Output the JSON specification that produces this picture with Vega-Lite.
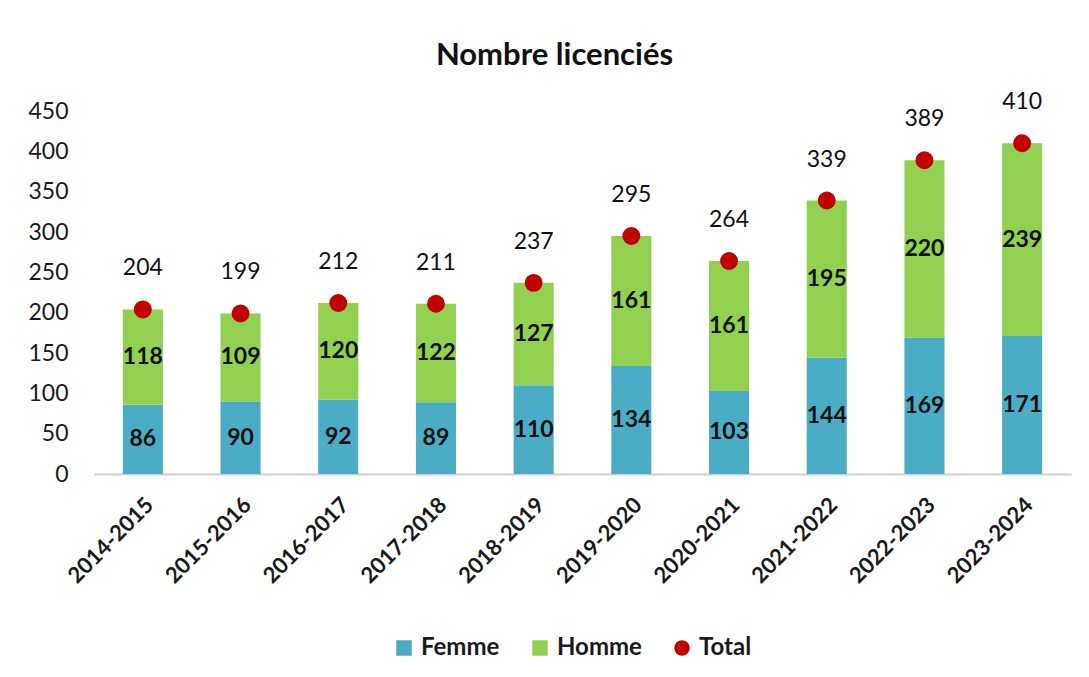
{
  "$schema": "https://vega.github.io/schema/vega-lite/v6.json",
  "width": 977,
  "height": 363,
  "autosize": {"type": "none"},
  "padding": {"left": 94, "top": 111, "right": 18, "bottom": 203},
  "background": "white",
  "title": {"text": "Nombre licenciés", "font": "Lato", "fontSize": 31, "fontWeight": "bold", "color": "#111111", "anchor": "middle", "offset": 19, "dx": -28},
  "config": {"view": {"stroke": null}, "font": "Lato"},
  "data": {"values": [
    {"season": "2014-2015", "serie": "Femme", "value": 86, "ord": 1},
    {"season": "2014-2015", "serie": "Homme", "value": 118, "ord": 2},
    {"season": "2014-2015", "serie": "Total", "value": 204, "ord": 3},
    {"season": "2015-2016", "serie": "Femme", "value": 90, "ord": 1},
    {"season": "2015-2016", "serie": "Homme", "value": 109, "ord": 2},
    {"season": "2015-2016", "serie": "Total", "value": 199, "ord": 3},
    {"season": "2016-2017", "serie": "Femme", "value": 92, "ord": 1},
    {"season": "2016-2017", "serie": "Homme", "value": 120, "ord": 2},
    {"season": "2016-2017", "serie": "Total", "value": 212, "ord": 3},
    {"season": "2017-2018", "serie": "Femme", "value": 89, "ord": 1},
    {"season": "2017-2018", "serie": "Homme", "value": 122, "ord": 2},
    {"season": "2017-2018", "serie": "Total", "value": 211, "ord": 3},
    {"season": "2018-2019", "serie": "Femme", "value": 110, "ord": 1},
    {"season": "2018-2019", "serie": "Homme", "value": 127, "ord": 2},
    {"season": "2018-2019", "serie": "Total", "value": 237, "ord": 3},
    {"season": "2019-2020", "serie": "Femme", "value": 134, "ord": 1},
    {"season": "2019-2020", "serie": "Homme", "value": 161, "ord": 2},
    {"season": "2019-2020", "serie": "Total", "value": 295, "ord": 3},
    {"season": "2020-2021", "serie": "Femme", "value": 103, "ord": 1},
    {"season": "2020-2021", "serie": "Homme", "value": 161, "ord": 2},
    {"season": "2020-2021", "serie": "Total", "value": 264, "ord": 3},
    {"season": "2021-2022", "serie": "Femme", "value": 144, "ord": 1},
    {"season": "2021-2022", "serie": "Homme", "value": 195, "ord": 2},
    {"season": "2021-2022", "serie": "Total", "value": 339, "ord": 3},
    {"season": "2022-2023", "serie": "Femme", "value": 169, "ord": 1},
    {"season": "2022-2023", "serie": "Homme", "value": 220, "ord": 2},
    {"season": "2022-2023", "serie": "Total", "value": 389, "ord": 3},
    {"season": "2023-2024", "serie": "Femme", "value": 171, "ord": 1},
    {"season": "2023-2024", "serie": "Homme", "value": 239, "ord": 2},
    {"season": "2023-2024", "serie": "Total", "value": 410, "ord": 3}
  ]},
  "encoding": {
    "x": {"field": "season", "type": "nominal", "sort": null,
      "scale": {"paddingInner": 0.59, "paddingOuter": 0.295},
      "axis": {"title": null, "labelAngle": -45, "labelFont": "Lato", "labelFontSize": 22, "labelFontWeight": "bold", "labelColor": "#1a1a1a", "ticks": false, "labelPadding": 20, "domainColor": "#d0d0d0", "domainWidth": 2}}
  },
  "layer": [
    {
      "transform": [{"filter": "datum.serie !== 'Total'"}],
      "mark": {"type": "bar"},
      "encoding": {
        "y": {"field": "value", "type": "quantitative", "stack": "zero",
          "scale": {"domain": [0, 450], "nice": false},
          "axis": {"title": null, "values": [0, 50, 100, 150, 200, 250, 300, 350, 400, 450], "grid": false, "domain": false, "ticks": false, "labelFont": "Lato", "labelFontSize": 23, "labelColor": "#1a1a1a", "labelPadding": 26}},
        "color": {"field": "serie", "type": "nominal",
          "scale": {"domain": ["Femme", "Homme", "Total"], "range": ["#4BACC6", "#92D050", "#C00000"]},
          "legend": {"title": null, "orient": "none", "legendX": 298, "legendY": 525, "direction": "horizontal", "labelFont": "Lato", "labelFontSize": 24, "labelFontWeight": "bold", "labelColor": "#1a1a1a", "symbolSize": 240, "symbolStrokeWidth": 0, "columnPadding": 28, "labelOffset": 5,
            "encode": {"symbols": {"update": {"shape": {"signal": "datum.value === 'Total' ? 'circle' : 'square'"}}}}}},
        "order": {"field": "ord", "type": "quantitative"}
      }
    },
    {
      "transform": [{"filter": "datum.serie !== 'Total'"}],
      "mark": {"type": "text", "font": "Lato", "fontSize": 23, "fontWeight": "bold", "color": "#111111", "baseline": "middle"},
      "encoding": {
        "y": {"field": "value", "type": "quantitative", "stack": "zero", "bandPosition": 0.5},
        "text": {"field": "value", "type": "quantitative"},
        "order": {"field": "ord", "type": "quantitative"}
      }
    },
    {
      "transform": [{"filter": "datum.serie === 'Total'"}],
      "mark": {"type": "point", "filled": true, "shape": "circle", "size": 320, "opacity": 1, "color": "#C00000"},
      "encoding": {
        "y": {"field": "value", "type": "quantitative"}
      }
    },
    {
      "transform": [{"filter": "datum.serie === 'Total'"}],
      "mark": {"type": "text", "font": "Lato", "fontSize": 23, "color": "#111111", "baseline": "middle", "dy": -41},
      "encoding": {
        "y": {"field": "value", "type": "quantitative"},
        "text": {"field": "value", "type": "quantitative"}
      }
    }
  ]
}
